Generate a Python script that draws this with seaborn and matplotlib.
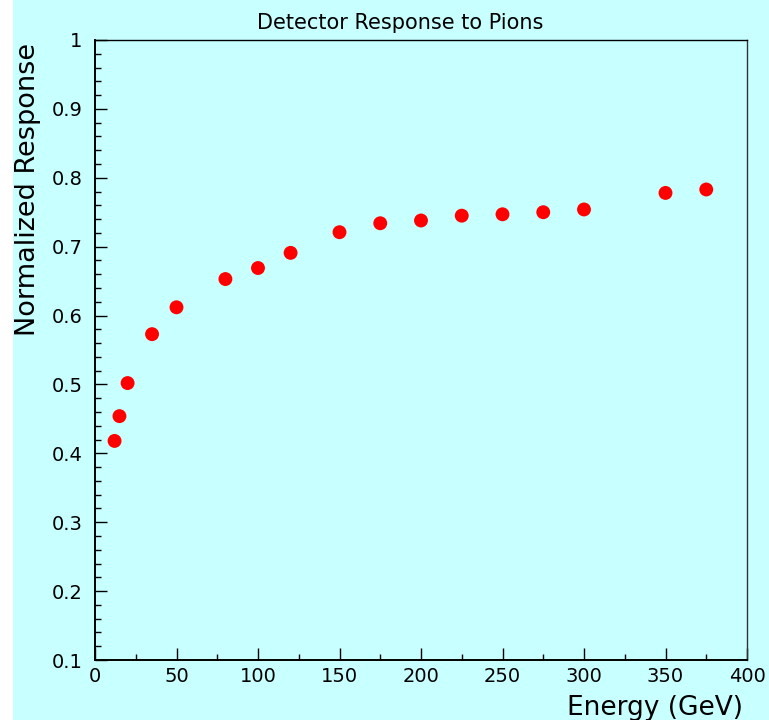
import matplotlib
matplotlib.use("Agg")
import matplotlib.pyplot as plt
import matplotlib.patches as mpatches
from matplotlib.ticker import MultipleLocator, FuncFormatter
import seaborn as sns
import pandas as pd

energy = [12, 15, 20, 35, 50, 80, 100, 120, 150, 175, 200, 225, 250, 275, 300, 350, 375]
response = [0.418, 0.454, 0.502, 0.573, 0.612, 0.653, 0.669, 0.691, 0.721, 0.734,
            0.738, 0.745, 0.747, 0.750, 0.754, 0.778, 0.783]
x_ticks = [0, 50, 100, 150, 200, 250, 300, 350, 400]
y_ticks = [0.1, 0.2, 0.3, 0.4, 0.5, 0.6, 0.7, 0.8, 0.9, 1.0]

title = "Detector Response to Pions"
xlabel = "Energy (GeV)"
ylabel = "Normalized Response"

sns.set_style("ticks")
plt.rcParams["font.family"] = ["DejaVu Sans"]
plt.rcParams["text.color"] = "black"
plt.rcParams["xtick.color"] = "black"
plt.rcParams["ytick.color"] = "black"
plt.rcParams["xtick.labelcolor"] = "black"
plt.rcParams["ytick.labelcolor"] = "black"

BG = "#C8FFFF"
W, H = 769, 720
fig = plt.figure(figsize=(W / 100, H / 100), dpi=100, facecolor="white")
fig.patches.append(mpatches.Rectangle((13 / W, 0), 1 - 13 / W, 1, transform=fig.transFigure,
                                      facecolor=BG, edgecolor="none", zorder=-10))

ax = fig.add_axes([95 / W, 1 - 660 / H, (747 - 95) / W, (660 - 40) / H])
ax.set_facecolor(BG)

df = pd.DataFrame({"energy": energy, "response": response})
sns.scatterplot(data=df, x="energy", y="response", ax=ax, color="#FF0000",
                s=100, edgecolor="none", linewidth=0, zorder=5, clip_on=False)

ax.set_xlim(0, 400)
ax.set_ylim(0.1, 1.0)
ax.set_xticks(x_ticks)
ax.set_yticks(y_ticks)
ax.xaxis.set_minor_locator(MultipleLocator(25))
ax.yaxis.set_minor_locator(MultipleLocator(0.02))
ax.yaxis.set_major_formatter(FuncFormatter(lambda v, p: ("%g" % round(v, 2))))
ax.set_xlabel("")
ax.set_ylabel("")

for side in ["left", "bottom"]:
    ax.spines[side].set_linewidth(1.4)
    ax.spines[side].set_color("black")
for side in ["top", "right"]:
    ax.spines[side].set_visible(True)
    ax.spines[side].set_linewidth(1.0)
ax.spines["top"].set_color("black")
ax.spines["right"].set_color("#333333")

ax.tick_params(axis="both", which="both", direction="in", top=False, right=False,
               color="black", labelcolor="black", width=1.0)
ax.tick_params(axis="both", which="major", length=8.6, labelsize=14)
ax.tick_params(axis="both", which="minor", length=4.3)
ax.tick_params(axis="x", which="major", pad=5)
ax.tick_params(axis="y", which="major", pad=9)

fig.text(400.5 / W, 1 - 29.3 / H, title, ha="center", va="baseline", fontsize=15,
         color="black")
fig.text(743 / W, 1 - 715 / H, xlabel, ha="right", va="baseline", fontsize=19,
         color="black")
fig.text(35 / W, 1 - 43 / H, ylabel, ha="right", va="baseline", fontsize=19.5,
         rotation=90, rotation_mode="anchor", color="black")

fig.savefig("out.png", dpi=100, facecolor=fig.get_facecolor())
